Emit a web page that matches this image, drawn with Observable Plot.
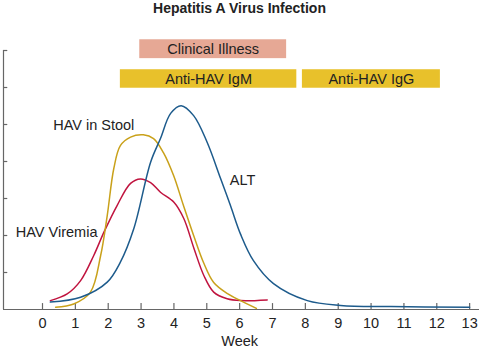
<!DOCTYPE html>
<html>
<head>
<meta charset="utf-8">
<script src="https://cdn.jsdelivr.net/npm/d3@7"></script>
<script src="https://cdn.jsdelivr.net/npm/@observablehq/plot@0.6"></script>
<style>
  html, body { margin: 0; padding: 0; background: #fff; }
  #title { font: bold 14px "Liberation Sans", Arial, sans-serif; height: 16px; line-height: 16px; text-align: center; color: #222; width: 479px; }
</style>
</head>
<body>
<div id="title">Hepatitis A Virus Infection</div>
<div id="chart"></div>
<script>
// ---- data ----
const weeks = [0,1,2,3,4,5,6,7,8,9,10,11,12,13];
const levelTicks = [1,2,3,4,5,6,7];

const altWeek  = [0.24,1.16,1.97,2.37,2.78,3.29,3.59,3.90,4.22,4.60,5.01,5.42,5.72,6.03,6.42,7.03,8.06,9.07,10.6,13.0];
const altLevel = [0.20,0.33,0.74,1.28,2.19,3.98,4.62,5.30,5.51,5.24,4.52,3.54,2.81,2.03,1.32,0.70,0.24,0.11,0.08,0.06];

const stoolWeek  = [0.40,0.95,1.46,1.77,1.97,2.17,2.37,2.68,3.07,3.38,3.68,3.99,4.29,4.60,4.90,5.21,5.63,6.03,6.51];
const stoolLevel = [0.06,0.15,0.47,1.46,2.54,3.81,4.43,4.66,4.72,4.62,4.24,3.62,2.81,2.00,1.27,0.73,0.43,0.24,0.03];

const viremiaWeek  = [0.24,0.75,1.16,1.56,1.87,2.27,2.68,2.98,3.29,3.59,4.00,4.30,4.61,4.91,5.21,5.62,6.03,6.84];
const viremiaLevel = [0.24,0.42,0.78,1.46,2.09,2.81,3.41,3.53,3.43,3.17,2.90,2.46,1.65,0.92,0.47,0.29,0.24,0.26];

const barNames = ["Clinical Illness","Anti-HAV IgM","Anti-HAV IgG"];
const barStart = [2.96, 2.37, 7.91];
const barEnd   = [7.43, 7.74, 12.11];
const barRow   = ["top","bottom","bottom"];

const labelText  = ["HAV in Stool","ALT","HAV Viremia"];
const labelWeek  = [1.56, 6.09, 0.43];
const labelLevel = [4.97, 3.49, 2.08];

// ---- build tables ----
const rowLevels = {top: [6.78, 7.29], bottom: [5.98, 6.48]};
const barColors = {"Clinical Illness": "#e6a895", "Anti-HAV IgM": "#e8c12b", "Anti-HAV IgG": "#e8c12b"};
const bars = barNames.map((n, i) => ({name: n, x1: barStart[i], x2: barEnd[i], y1: rowLevels[barRow[i]][0], y2: rowLevels[barRow[i]][1]}));
const series = (w, l) => w.map((x, i) => ({x, y: l[i]}));
const alt = series(altWeek, altLevel);
const stool = series(stoolWeek, stoolLevel);
const viremia = series(viremiaWeek, viremiaLevel);
const labels = labelText.map((t, i) => ({t, x: labelWeek[i], y: labelLevel[i]}));

const xMin = -1.187, xMax = 13.3;
const axisColor = "#666";
const textColor = "#222";
const fs = 14.5;

const chart = Plot.plot({
  width: 479,
  height: 333,
  marginLeft: 3,
  marginRight: 0,
  marginTop: 34,
  marginBottom: 40,
  style: {fontFamily: '"Liberation Sans", Arial, sans-serif', fontSize: "14px", color: textColor, background: "#fff"},
  x: {domain: [xMin, xMax], axis: null},
  y: {domain: [0, 7], axis: null},
  marks: [
    // axes lines
    Plot.ruleY([0], {x1: xMin, x2: xMax, stroke: axisColor, strokeWidth: 1.2}),
    Plot.ruleX([xMin], {y1: 0, y2: 7, stroke: axisColor, strokeWidth: 1.2}),
    Plot.ruleY(levelTicks, {x1: xMin, x2: xMin + 0.13, stroke: axisColor, strokeWidth: 1.2}),
    Plot.ruleX(weeks, {y1: 0, y2: 0.16, stroke: axisColor, strokeWidth: 1.2}),
    Plot.axisX({ticks: weeks, tickSize: 0, tickPadding: 8, fontSize: fs, tickFormat: d => String(d), label: null, stroke: "none", fill: textColor}),
    Plot.text([{t: "Week", x: 6}], {x: "x", text: "t", frameAnchor: "bottom", dy: 36, fontSize: fs, fill: textColor}),
    // bars
    Plot.rectY(bars, {x1: "x1", x2: "x2", y1: "y1", y2: "y2", fill: d => barColors[d.name]}),
    Plot.text(bars, {x: d => (d.x1 + d.x2) / 2, y: d => (d.y1 + d.y2) / 2, text: "name", fontSize: fs, fill: textColor}),
    // curves
    Plot.line(viremia, {x: "x", y: "y", stroke: "#c0143f", strokeWidth: 1.5, curve: "catmull-rom"}),
    Plot.line(stool, {x: "x", y: "y", stroke: "#c9a11a", strokeWidth: 1.5, curve: "catmull-rom"}),
    Plot.line(alt, {x: "x", y: "y", stroke: "#1d5b8c", strokeWidth: 1.5, curve: "catmull-rom"}),
    // labels
    Plot.text(labels, {x: "x", y: "y", text: "t", fontSize: fs, fill: textColor})
  ]
});
document.getElementById("chart").appendChild(chart);
</script>
</body>
</html>
